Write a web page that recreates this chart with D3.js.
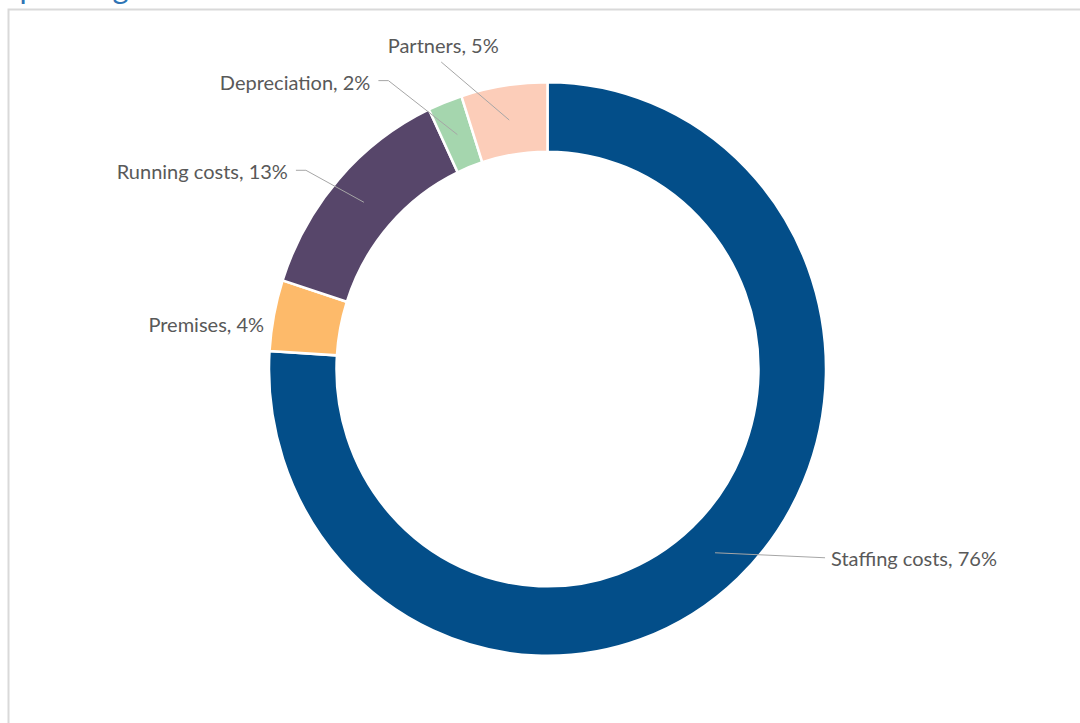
<!DOCTYPE html>
<html>
<head>
<meta charset="utf-8">
<script src="https://cdn.jsdelivr.net/npm/d3@7/dist/d3.min.js"></script>
<style>
  html, body { margin: 0; padding: 0; background: #ffffff; }
  svg { display: block; }
  .lbl { font-family: Lato, "Open Sans", sans-serif; font-size: 20px; fill: #595959; }
</style>
</head>
<body>
<svg id="chart" width="1080" height="723"></svg>
<script>
// Expenditure breakdown (share of total, %)
const categories = ["Staffing costs", "Premises", "Running costs", "Depreciation", "Partners"];
const values = [76, 4, 13, 2, 5];
const colors = ["#034e89", "#fdba6a", "#57466a", "#a5d6ae", "#fccdb9"];
const titleText = "Spending";

const W = 1080, H = 723;
const cx = 547.5, cy = 369;
const rOuter = 278.5, rInner = 211;
const yStretch = 1.03;

// label placement relative to each slice centroid
const labelLayout = [
  { dx: 116, dy: 6, anchor: "start", leader: "h" },
  { dx: -43, dy: 3, anchor: "end", leader: "none" },
  { dx: -76, dy: -30, anchor: "end", leader: "elbow" },
  { dx: -87, dy: -52, anchor: "end", leader: "elbow" },
  { dx: -66, dy: -74, anchor: "middle", leader: "under" }
];

const svg = d3.select("#chart");

// title (sits above the frame, mostly clipped)
svg.append("text")
  .attr("x", 3).attr("y", -1)
  .attr("font-family", "Lato, 'Open Sans', sans-serif")
  .attr("font-size", 31)
  .attr("fill", "#2f75b5")
  .text(titleText);

// frame
svg.append("path")
  .attr("d", `M8.5,${H} L8.5,9.5 L${W},9.5`)
  .attr("fill", "none")
  .attr("stroke", "#d9d9d9")
  .attr("stroke-width", 2);

const data = categories.map((c, i) => ({ name: c, value: values[i], color: colors[i] }));

const pie = d3.pie().value(d => d.value).sort(null);
const arcs = pie(data);
const arc = d3.arc().innerRadius(rInner).outerRadius(rOuter);

const g = svg.append("g")
  .attr("transform", `translate(${cx},${cy}) scale(1,${yStretch})`);

g.selectAll("path.slice")
  .data(arcs)
  .join("path")
  .attr("class", "slice")
  .attr("d", arc)
  .attr("fill", d => d.data.color)
  .attr("stroke", "#ffffff")
  .attr("stroke-width", 2.5)
  .attr("stroke-linejoin", "miter");

// labels and leader lines
const toPage = p => [cx + p[0], cy + p[1] * yStretch];

arcs.forEach((d, i) => {
  const c = toPage(arc.centroid(d));
  const L = labelLayout[i];
  const tx = c[0] + L.dx, ty = c[1] + L.dy;

  svg.append("text")
    .attr("class", "lbl")
    .attr("x", tx).attr("y", ty)
    .attr("dy", "0.35em")
    .attr("text-anchor", L.anchor)
    .text(`${d.data.name}, ${d.data.value}%`);

  let pts = null;
  if (L.leader === "h") {
    pts = [c, [tx - 6, ty - 1]];
  } else if (L.leader === "elbow") {
    pts = [c, [tx + 18, ty - 2]];
    pts.push([tx + 8, ty - 2]);
  } else if (L.leader === "under") {
    pts = [c, [tx - 2, ty + 16]];
  }
  if (pts) {
    svg.append("path")
      .attr("d", d3.line()(pts))
      .attr("fill", "none")
      .attr("stroke", "#a6a6a6")
      .attr("stroke-width", 1);
  }
});
</script>
</body>
</html>
